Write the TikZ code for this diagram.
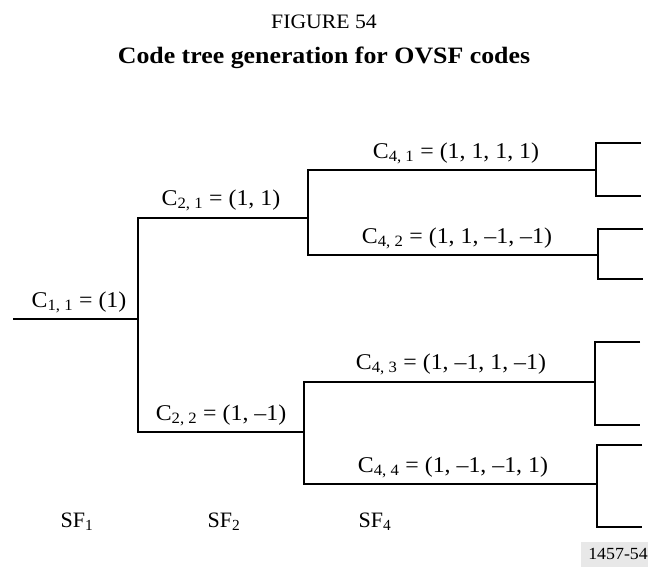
\documentclass[tikz,border=0pt]{standalone}
\usepackage{fontspec}
\usepackage{graphicx}
\setmainfont{Liberation Serif}
\usetikzlibrary{positioning}
\definecolor{tag}{HTML}{E8E8E8}
\newcommand{\wide}[2][1.06]{\scalebox{#1}[1]{#2}}
\newcommand{\code}[2]{\wide{C\textsubscript{#1} = (#2)}}

\begin{document}
\begin{tikzpicture}[
  x=1pt, y=-1pt,
  branch/.style={draw=black, line width=1.1pt},
  lbl/.style={anchor=base, inner sep=0pt, font=\fontsize{22.5}{25}\selectfont},
  sf/.style={anchor=base, inner sep=0pt, font=\fontsize{22}{25}\selectfont}
]
\useasboundingbox (0,0) rectangle (648,567);
% titles
\node[inner sep=0pt, anchor=base, font=\fontsize{20.5}{23}\selectfont] (fig) at (324,29) {\wide{FIGURE 54}};
\node[inner sep=0pt, anchor=base, font=\fontsize{23.5}{26}\selectfont\bfseries] (ttl) at (324,64) {\wide[1.1]{Code tree generation for OVSF codes}};
% junctions
\coordinate (root) at (13,319);
\coordinate (j11) at (138,319);
\coordinate (j21a) at (138,218);  \coordinate (j21) at (308,218);
\coordinate (j22a) at (138,432);  \coordinate (j22) at (304,432);
\coordinate (j41a) at (308,170);  \coordinate (j41) at (596,170);
\coordinate (j42a) at (308,255);  \coordinate (j42) at (598,255);
\coordinate (j43a) at (304,382);  \coordinate (j43) at (595,382);
\coordinate (j44a) at (304,484);  \coordinate (j44) at (597,484);
% stubs
\coordinate (s1) at (596,143); \coordinate (s2) at (596,196);
\coordinate (s3) at (598,229); \coordinate (s4) at (598,279);
\coordinate (s5) at (595,342); \coordinate (s6) at (595,425);
\coordinate (s7) at (597,445); \coordinate (s8) at (597,527);
% tree
\draw[branch] (root) -- (j11);
\draw[branch] (j21) -- (j21a) -- (j22a) -- (j22);
\draw[branch] (j41) -- (j41a) -- (j42a) -- (j42);
\draw[branch] (j43) -- (j43a) -- (j44a) -- (j44);
\foreach \a/\b in {s1/s2, s3/s4, s5/s6, s7/s8}
  \draw[branch] ([xshift=45pt]\a) -- (\a) -- (\b) -- ([xshift=45pt]\b);
% labels
\node[lbl] (c11) at (79,307) {\code{1, 1}{1}};
\node[lbl] (c21) at (221,205) {\code{2, 1}{1, 1}};
\node[lbl] (c22) at (221,420) {\code{2, 2}{1, –1}};
\node[lbl] (c41) at (456,158) {\code{4, 1}{1, 1, 1, 1}};
\node[lbl] (c42) at (457,243) {\code{4, 2}{1, 1, –1, –1}};
\node[lbl] (c43) at (451,369) {\code{4, 3}{1, –1, 1, –1}};
\node[lbl] (c44) at (453,472) {\code{4, 4}{1, –1, –1, 1}};
% spreading factors
\node[sf] (sf1) at (77,527) {SF\textsubscript{1}};
\node[sf] (sf2) at (224,527) {SF\textsubscript{2}};
\node[sf] (sf4) at (375,527) {SF\textsubscript{4}};
% tag
\node[fill=tag, inner sep=0pt, minimum height=25pt, anchor=south east,
      font=\fontsize{17}{19}\selectfont] (id) at (648,567) {\hspace{7pt}\wide[1.05]{1457-54}};
\end{tikzpicture}
\end{document}
